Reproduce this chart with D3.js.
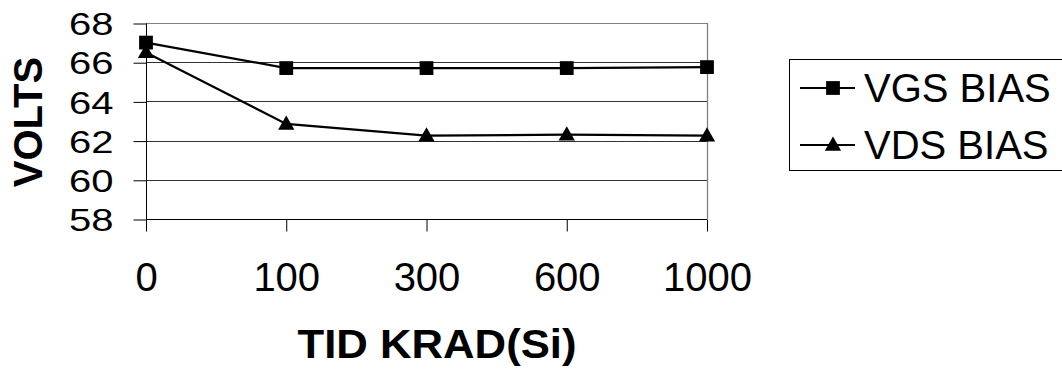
<!DOCTYPE html>
<html>
<head>
<meta charset="utf-8">
<script src="https://cdn.jsdelivr.net/npm/d3@7"></script>
<style>
  html, body { margin: 0; padding: 0; background: #fff; }
  svg { display: block; font-family: "Liberation Sans", Arial, sans-serif; }
</style>
</head>
<body>
<svg id="chart" width="1062" height="370"></svg>
<script>
const categories = ["0", "100", "300", "600", "1000"];
const vgsBias = [67.0, 65.7, 65.7, 65.7, 65.75];
const vdsBias = [66.5, 62.85, 62.25, 62.3, 62.25];
const yTicks = [58, 60, 62, 64, 66, 68];
const seriesNames = ["VGS BIAS", "VDS BIAS"];
const xTitle = "TID KRAD(Si)";
const yTitle = "VOLTS";

const svg = d3.select("#chart");
const pLeft = 146, pRight = 707, pTop = 23, pBottom = 219;

const x = d3.scalePoint().domain(categories).range([pLeft, pRight]).padding(0);
const y = d3.scaleLinear().domain([58, 68]).range([pBottom, pTop]);

// gridlines
svg.append("g").selectAll("line").data(yTicks.slice(1)).join("line")
  .attr("x1", pLeft).attr("x2", pRight)
  .attr("y1", d => Math.round(y(d)) + 0.5).attr("y2", d => Math.round(y(d)) + 0.5)
  .attr("stroke", d => d === 68 ? "#808080" : "#333").attr("stroke-width", 1);

// right border
svg.append("line").attr("x1", pRight + 0.5).attr("x2", pRight + 0.5)
  .attr("y1", pTop).attr("y2", pBottom).attr("stroke", "#808080").attr("stroke-width", 1.3);

// y axis
const yAxis = d3.axisLeft(y).tickValues(yTicks).tickSize(13).tickPadding(20).tickFormat(d3.format("d"));
const gy = svg.append("g").attr("transform", `translate(${pLeft + 0.5},0.5)`).call(yAxis);
gy.select(".domain").attr("stroke", "#000").attr("d", `M0,${y(58)}V${y(68)}`);
gy.selectAll(".tick line").attr("stroke", "#000");
gy.selectAll(".tick text")
  .attr("font-size", 40).attr("fill", "#000")
  .attr("font-family", "'Liberation Sans', Arial, sans-serif")
  .attr("dy", "0.35em")
  .attr("x", null)
  .attr("transform", "translate(-33,0) scale(1,0.8)");

// x axis
const xAxis = d3.axisBottom(x).tickSize(12).tickPadding(30);
const gx = svg.append("g").attr("transform", `translate(0,${pBottom + 0.5})`).call(xAxis);
gx.select(".domain").attr("stroke", "#000").attr("d", `M${pLeft},0H${pRight}`);
gx.selectAll(".tick line").attr("stroke", "#000");
gx.selectAll(".tick text").attr("font-size", 40).attr("fill", "#000")
  .attr("font-family", "'Liberation Sans', Arial, sans-serif")
  .attr("dy", null).attr("y", 71);

// titles
svg.append("text").attr("x", 437).attr("y", 358).attr("text-anchor", "middle")
  .attr("font-size", 40).attr("font-weight", "bold").attr("textLength", 279)
  .attr("lengthAdjust", "spacingAndGlyphs").text(xTitle);
svg.append("text").attr("transform", "translate(42,122) rotate(-90)")
  .attr("text-anchor", "middle").attr("font-size", 40).attr("font-weight", "bold")
  .text(yTitle);

// lines
const line = d3.line().x((d, i) => x(categories[i])).y(d => y(d));
const seriesData = [vgsBias, vdsBias];
svg.append("g").selectAll("path").data(seriesData).join("path")
  .attr("d", line).attr("fill", "none").attr("stroke", "#000").attr("stroke-width", 2.2);

const sq = d3.symbol().type(d3.symbolSquare).size(190);
const tri = d3.symbol().type(d3.symbolTriangle).size(115);
const symbols = [sq, tri];

seriesData.forEach((vals, si) => {
  svg.append("g").selectAll("path").data(vals).join("path")
    .attr("d", symbols[si])
    .attr("transform", (d, i) => `translate(${x(categories[i])},${y(d) + (si === 1 ? 1 : 0)})`)
    .attr("fill", "#000");
});

// legend
const lg = svg.append("g");
lg.append("rect").attr("x", 789.5).attr("y", 59.5).attr("width", 280).attr("height", 111)
  .attr("fill", "#fff").attr("stroke", "#000").attr("stroke-width", 1);
seriesNames.forEach((name, i) => {
  const cy = 88 + i * 57;
  lg.append("line").attr("x1", 800).attr("x2", 855).attr("y1", cy).attr("y2", cy)
    .attr("stroke", "#000").attr("stroke-width", 2);
  lg.append("path").attr("d", symbols[i]).attr("fill", "#000")
    .attr("transform", `translate(833,${cy + (i === 1 ? 1 : 0)})`);
  lg.append("text").attr("x", 864).attr("y", cy + 14).attr("font-size", 40)
    .attr("fill", "#000").text(name);
});
</script>
</body>
</html>
